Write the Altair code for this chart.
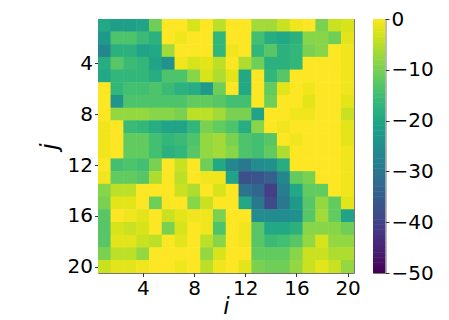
import altair as alt
import pandas as pd

# cell values, row j (top to bottom), columns i = 1..20
j01 = [-20, -22, -22, -21, -11, 0, 0, -3, 0, -5, 0, 0, -7, -7, -4, -1, 0, -10, -4, -3]
j02 = [-23, -14, -14, -16, -18, 0, -1, 0, 0, -17, 0, 0, -15, -19, -20, -18, -9, -9, -11, -2]
j03 = [-27, -18, -18, -21, -20, -7, 0, 0, 0, -17, -1, 0, -17, -13, -18, -17, -10, -9, 0, -1]
j04 = [-19, -13, -16, -17, -21, -25, -1, -3, -2, -5, 0, -6, -11, -18, -18, -17, 0, 0, 0, -1]
j05 = [-20, -17, -17, -17, -19, -14, -14, -9, -3, -6, -2, -20, 0, -17, -13, 0, 0, 0, 0, -1]
j06 = [0, -17, -15, -15, -14, -16, -18, -19, -23, -11, 0, -20, 0, -12, -2, 0, -1, 0, 0, -1]
j07 = [0, -24, -14, -14, -14, -14, -14, -12, -12, -13, -15, -15, 0, -11, 0, 0, -2, 0, 0, -2]
j08 = [0, -8, -8, -8, -9, -9, -10, -5, -5, -7, -10, -10, -21, 0, 0, -1, -1, 0, 0, -4]
j09 = [-1, 0, -16, -17, -19, -21, -21, -17, -10, -12, -14, -19, -9, 0, -1, 0, 0, 0, 0, -2]
j10 = [-1, 0, -12, -12, -15, -17, -16, -14, -8, -7, -10, -14, -15, -13, 0, -1, 0, 0, 0, -2]
j11 = [-1, 0, -12, -12, -15, -18, -17, -13, -8, -7, -9, -14, -15, -12, -6, 0, 0, 0, 0, -1]
j12 = [0, -15, -14, -15, -10, 0, -4, 0, -11, -20, -27, -30, -26, -25, -19, 0, 0, 0, 0, -1]
j13 = [-1, -12, -12, -13, -6, 0, -5, 0, -1, -1, -21, -38, -37, -35, -27, -12, -10, 0, 0, -1]
j14 = [-9, -5, -5, 0, 0, 0, -4, -6, 0, -3, 0, -31, -34, -41, -29, -20, -12, -12, 0, -1]
j15 = [-10, -2, -2, 0, -11, 0, 0, -9, -4, 0, 0, -20, -30, -39, -30, -23, -13, -8, -12, -2]
j16 = [-13, 0, -1, -2, 0, -4, -2, -1, -1, -10, 0, 0, -26, -26, -26, -25, -13, -7, -12, -21]
j17 = [-13, -3, -4, -3, 0, -10, -3, 0, -1, -14, 0, -1, -13, -20, -20, -18, -9, -9, -9, -11]
j18 = [-13, -2, -2, -4, -5, 0, -2, 0, -5, -9, 0, -1, -13, -16, -15, -13, -8, -3, -8, -8]
j19 = [-10, -5, -5, -8, 0, 0, 0, 0, -8, -3, 0, 0, -12, -12, -12, -9, -4, -4, -6, -6]
j20 = [-4, -2, -2, -1, 0, 0, -1, 0, -5, -1, 0, -2, -10, -11, -11, -8, -4, -2, -4, -8]

rows = [j01, j02, j03, j04, j05, j06, j07, j08, j09, j10,
        j11, j12, j13, j14, j15, j16, j17, j18, j19, j20]
tick_values = [4, 8, 12, 16, 20]
cbar_ticks = [-50, -40, -30, -20, -10, 0]
cbar_domain = [-50, 0]

records = []
for jj, row in enumerate(rows, start=1):
    for ii, v in enumerate(row, start=1):
        records.append({"i": ii, "j": jj, "v": v})
df = pd.DataFrame(records)

FONT = "DejaVu Sans"
axis_common = dict(grid=False, domain=False, tickSize=3.5, tickColor="black",
                   tickWidth=0.8, labelFontSize=20, labelColor="black",
                   labelFont=FONT, labelPadding=2)
title_common = dict(titleFont=FONT, titleFontSize=23, titleFontStyle="italic",
                    titleFontWeight="normal", titleColor="black")

heat = (
    alt.Chart(df)
    .transform_calculate(i0="datum.i - 0.52", i1="datum.i + 0.52",
                         j0="datum.j - 0.52", j1="datum.j + 0.52")
    .mark_rect(clip=True)
    .encode(
        x=alt.X("i0:Q",
                scale=alt.Scale(domain=[0.5, 20.5], nice=False, zero=False),
                axis=alt.Axis(values=tick_values, title="i", titlePadding=-3,
                              **axis_common, **title_common)),
        x2="i1:Q",
        y=alt.Y("j0:Q",
                scale=alt.Scale(domain=[0.5, 20.5], nice=False, zero=False, reverse=True),
                axis=alt.Axis(values=tick_values, title="j", titlePadding=6,
                              **axis_common, **title_common)),
        y2="j1:Q",
        color=alt.Color("v:Q", scale=alt.Scale(domain=cbar_domain, scheme="viridis"),
                        legend=None),
    )
    .properties(width=256, height=254)
)

# colour bar: a fine sequence across the colour scale's domain
cbar = (
    alt.Chart(alt.sequence(start=-50, stop=0, step=0.5, as_="c"))
    .transform_calculate(c1="datum.c + 0.6")
    .mark_rect(clip=True)
    .encode(
        y=alt.Y("c:Q", scale=alt.Scale(domain=cbar_domain, nice=False, zero=False),
                axis=alt.Axis(values=cbar_ticks, orient="right", title=None,
                              **axis_common)),
        y2="c1:Q",
        color=alt.Color("c:Q", scale=alt.Scale(domain=cbar_domain, scheme="viridis"),
                        legend=None),
    )
    .properties(width=12.5, height=254)
)

chart = (
    alt.hconcat(heat, cbar, spacing=19, bounds="flush")
    .properties(padding={"left": 29, "top": 0, "right": 0, "bottom": 0})
    .configure_view(stroke="#777", strokeWidth=1)
)

chart.save("out.html", embed_options={"renderer": "svg", "actions": False})
